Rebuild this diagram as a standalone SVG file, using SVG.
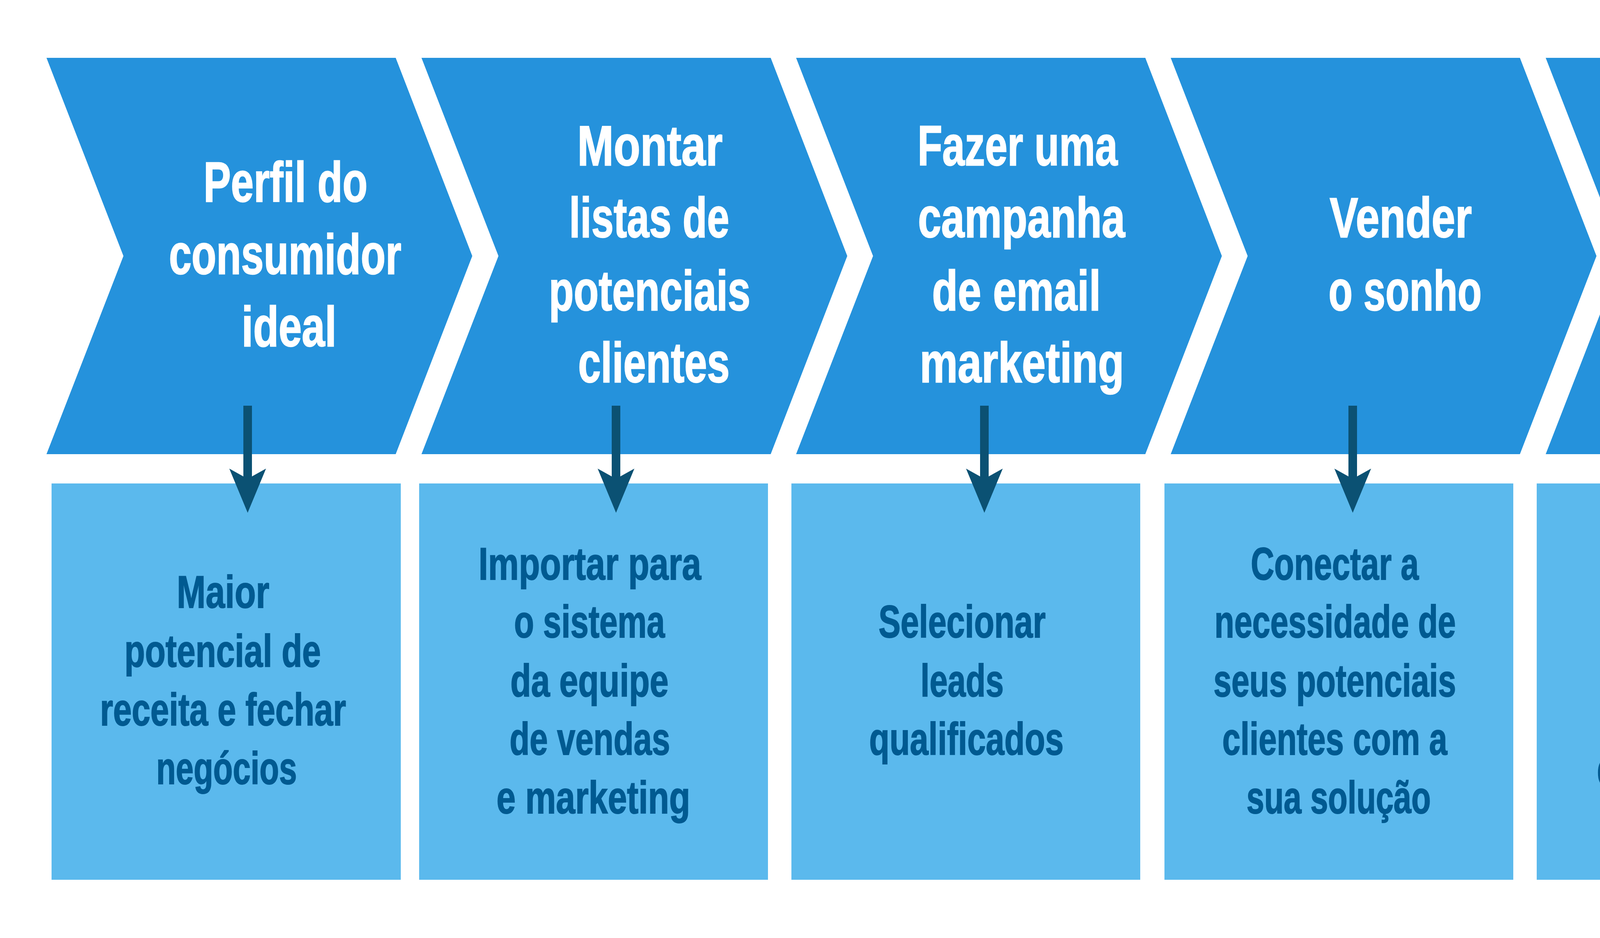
<svg xmlns="http://www.w3.org/2000/svg" width="5167" height="2400" viewBox="0 0 5167 2400">
<style>
.chev{fill:#2592DC}
.box{fill:#5BB9ED}
.h{font-family:"Liberation Sans","Arial",sans-serif;font-weight:bold;font-size:145px;fill:#FFFFFF;stroke:#FFFFFF;stroke-width:2.5px;text-anchor:middle}
.t{font-family:"Liberation Sans","Arial",sans-serif;font-weight:bold;font-size:116px;fill:#005A91;stroke:#005A91;stroke-width:2px;text-anchor:middle}
.conn{stroke:#0B5173;stroke-width:22;fill:none}
</style>
<defs>
<marker id="ah" markerUnits="userSpaceOnUse" viewBox="0 -47 113 94" markerWidth="113" markerHeight="94" refX="26" refY="0" orient="auto">
<path d="M0,-47 L20,-11 L20,11 L0,47 L113,0 Z" fill="#0B5173"/>
</marker>
</defs>
<rect x="0" y="0" width="5167" height="2400" fill="#FFFFFF"/>

<g id="step1">
<polygon class="chev" points="119,148 1013,148 1209,655 1013,1162 119,1162 316,655"/>
<text class="h" x="731" y="516" textLength="420" lengthAdjust="spacingAndGlyphs">Perfil do</text>
<text class="h" x="730" y="701" textLength="595" lengthAdjust="spacingAndGlyphs">consumidor</text>
<text class="h" x="740" y="886" textLength="243" lengthAdjust="spacingAndGlyphs">ideal</text>
</g>
<g id="step2">
<polygon class="chev" points="1079,148 1973,148 2169,655 1973,1162 1079,1162 1276,655"/>
<text class="h" x="1664" y="423" textLength="372" lengthAdjust="spacingAndGlyphs">Montar</text>
<text class="h" x="1662" y="607" textLength="410" lengthAdjust="spacingAndGlyphs">listas de</text>
<text class="h" x="1663" y="794" textLength="516" lengthAdjust="spacingAndGlyphs">potenciais</text>
<text class="h" x="1674" y="978" textLength="388" lengthAdjust="spacingAndGlyphs">clientes</text>
</g>
<g id="step3">
<polygon class="chev" points="2038,148 2932,148 3128,655 2932,1162 2038,1162 2235,655"/>
<text class="h" x="2605" y="423" textLength="512" lengthAdjust="spacingAndGlyphs">Fazer uma</text>
<text class="h" x="2615" y="607" textLength="530" lengthAdjust="spacingAndGlyphs">campanha</text>
<text class="h" x="2602" y="794" textLength="432" lengthAdjust="spacingAndGlyphs">de email</text>
<text class="h" x="2616" y="978" textLength="523" lengthAdjust="spacingAndGlyphs">marketing</text>
</g>
<g id="step4">
<polygon class="chev" points="2997,148 3891,148 4087,655 3891,1162 2997,1162 3194,655"/>
<text class="h" x="3586" y="607" textLength="364" lengthAdjust="spacingAndGlyphs">Vender</text>
<text class="h" x="3597" y="794" textLength="392" lengthAdjust="spacingAndGlyphs">o sonho</text>
</g>
<g id="step5">
<polygon class="chev" points="3957,148 4851,148 5047,655 4851,1162 3957,1162 4154,655"/>
<text class="h" x="4533" y="607" textLength="320" lengthAdjust="spacingAndGlyphs">Passar</text>
<text class="h" x="4541" y="793" textLength="427" lengthAdjust="spacingAndGlyphs">o bastão</text>
</g>

<g id="result1">
<rect class="box" x="132" y="1237" width="894" height="1014"/>
<text class="t" x="571" y="1555" textLength="237" lengthAdjust="spacingAndGlyphs">Maior</text>
<text class="t" x="570" y="1706" textLength="503" lengthAdjust="spacingAndGlyphs">potencial de</text>
<text class="t" x="571" y="1856" textLength="630" lengthAdjust="spacingAndGlyphs">receita e fechar</text>
<text class="t" x="580" y="2006" textLength="360" lengthAdjust="spacingAndGlyphs">negócios</text>
</g>
<g id="result2">
<rect class="box" x="1073" y="1237" width="893" height="1014"/>
<text class="t" x="1510" y="1483" textLength="570" lengthAdjust="spacingAndGlyphs">Importar para</text>
<text class="t" x="1509" y="1631" textLength="386" lengthAdjust="spacingAndGlyphs">o sistema</text>
<text class="t" x="1509" y="1782" textLength="405" lengthAdjust="spacingAndGlyphs">da equipe</text>
<text class="t" x="1510" y="1931" textLength="411" lengthAdjust="spacingAndGlyphs">de vendas</text>
<text class="t" x="1519" y="2081" textLength="496" lengthAdjust="spacingAndGlyphs">e marketing</text>
</g>
<g id="result3">
<rect class="box" x="2026" y="1237" width="893" height="1014"/>
<text class="t" x="2463" y="1631" textLength="428" lengthAdjust="spacingAndGlyphs">Selecionar</text>
<text class="t" x="2463" y="1782" textLength="213" lengthAdjust="spacingAndGlyphs">leads</text>
<text class="t" x="2474" y="1931" textLength="498" lengthAdjust="spacingAndGlyphs">qualificados</text>
</g>
<g id="result4">
<rect class="box" x="2981" y="1237" width="893" height="1014"/>
<text class="t" x="3417" y="1483" textLength="430" lengthAdjust="spacingAndGlyphs">Conectar a</text>
<text class="t" x="3418" y="1631" textLength="618" lengthAdjust="spacingAndGlyphs">necessidade de</text>
<text class="t" x="3417" y="1782" textLength="621" lengthAdjust="spacingAndGlyphs">seus potenciais</text>
<text class="t" x="3417" y="1931" textLength="576" lengthAdjust="spacingAndGlyphs">clientes com a</text>
<text class="t" x="3427" y="2081" textLength="472" lengthAdjust="spacingAndGlyphs">sua solução</text>
</g>
<g id="result5">
<rect class="box" x="3934" y="1237" width="894" height="1014"/>
<text class="t" x="4374" y="1458" textLength="487" lengthAdjust="spacingAndGlyphs">Encaminhar</text>
<text class="t" x="4370" y="1595" textLength="247" lengthAdjust="spacingAndGlyphs">o lead</text>
<text class="t" x="4371" y="1733" textLength="458" lengthAdjust="spacingAndGlyphs">qualificado</text>
<text class="t" x="4370" y="1871" textLength="514" lengthAdjust="spacingAndGlyphs">para alguém</text>
<text class="t" x="4371" y="2008" textLength="566" lengthAdjust="spacingAndGlyphs">de sua equipe</text>
<text class="t" x="4381" y="2146" textLength="432" lengthAdjust="spacingAndGlyphs" xml:space="preserve">de  vendas</text>
</g>

<g id="connectors">
<line class="conn" x1="634" y1="1038" x2="634" y2="1225" marker-end="url(#ah)"/>
<line class="conn" x1="1577" y1="1038" x2="1577" y2="1225" marker-end="url(#ah)"/>
<line class="conn" x1="2520" y1="1038" x2="2520" y2="1225" marker-end="url(#ah)"/>
<line class="conn" x1="3463" y1="1038" x2="3463" y2="1225" marker-end="url(#ah)"/>
<line class="conn" x1="4405" y1="1038" x2="4405" y2="1225" marker-end="url(#ah)"/>
</g>
</svg>
